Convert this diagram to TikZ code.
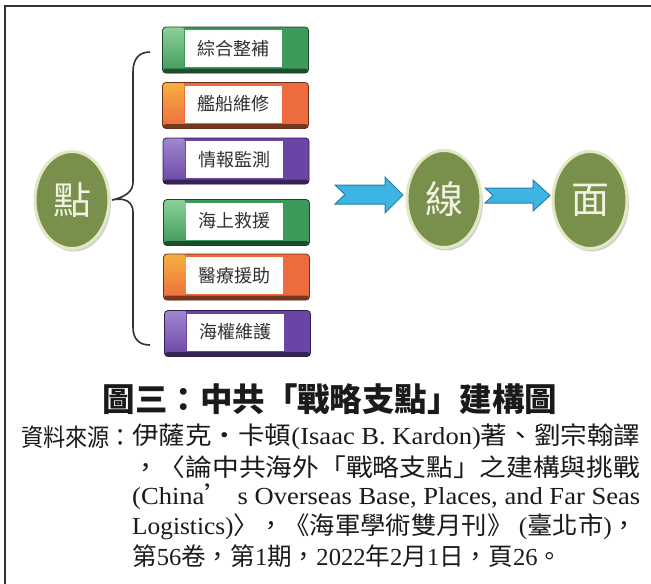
\documentclass[tikz,border=0pt]{standalone}
\usepackage{fontspec}
\usepackage{graphicx}
\setmainfont{Liberation Serif}
\newfontfamily\cjk{Noto Sans CJK TC}
\usetikzlibrary{shapes.geometric,shadows}
\newcommand\lat[1]{{\rmfamily #1}}
\definecolor{framecol}{HTML}{333333}
\definecolor{circfill}{HTML}{78904C}
\definecolor{circedge}{HTML}{E2E8C4}
\definecolor{circtext}{HTML}{F0F2E2}
\definecolor{greenc}{HTML}{3C9A5A}
\definecolor{greenl}{HTML}{8ED09A}
\definecolor{orangec}{HTML}{EE6B3E}
\definecolor{orangel}{HTML}{F5B040}
\definecolor{purplec}{HTML}{6B45A5}
\definecolor{purplel}{HTML}{A088D0}
\definecolor{boxtext}{HTML}{303030}
\definecolor{arrowfill}{HTML}{3DB5E3}
\definecolor{arrowedge}{HTML}{2A7FA6}
\definecolor{bracecol}{HTML}{333333}
\definecolor{srccol}{HTML}{1A1A1A}
\tikzset{
 bubble/.style={ellipse, minimum width=74pt, minimum height=97pt, inner sep=0pt,
   fill=circfill, draw=circedge, line width=3pt,
   drop shadow={shadow xshift=2pt, shadow yshift=-3pt, opacity=0.3, fill=black!60},
   text=circtext, font=\cjk\fontsize{38}{38}\selectfont},
 tagbox/.style 2 args={rectangle, rounded corners=3.5pt, minimum width=146pt,
   minimum height=46pt, inner sep=0pt, fill=#1, draw=#1!45!black, line width=0.8pt,
   path picture={
     \shade[top color=#2, bottom color=#1] (path picture bounding box.north west)
        rectangle ([xshift=22pt]path picture bounding box.south west);
     \fill[#1!50!black] ([yshift=4.5pt]path picture bounding box.south west)
        rectangle (path picture bounding box.south east);
   }},
 tagtext/.style={rectangle, fill=white, minimum width=97pt, minimum height=37pt,
   inner sep=0pt, text=boxtext, font=\cjk\fontsize{18}{18}\selectfont},
 blockarrow/.style={fill=arrowfill, draw=arrowedge, line width=1pt, line join=miter},
 brace/.style={draw=bracecol, line width=1.6pt},
 srcline/.style={anchor=west, inner sep=0pt, font=\cjk\fontsize{24.5}{26}\selectfont, text=srccol},
 titletext/.style={inner sep=0pt, font=\cjk\bfseries\fontsize{32.5}{34}\selectfont, text=srccol},
}
\begin{document}
\begin{tikzpicture}[x=1pt,y=-1pt]
\useasboundingbox (0,0) rectangle (651,584);
\fill[white] (0,0) rectangle (651,584);
\draw[framecol, line width=2.4pt] (5,600) -- (5,6) -- (670,6);

% boxes
\node[tagbox={greenc}{greenl}]   (b1) at (235.5,50)    {};
\node[tagbox={orangec}{orangel}] (b2) at (235.5,105.5) {};
\node[tagbox={purplec}{purplel}] (b3) at (236,161)     {};
\node[tagbox={greenc}{greenl}]   (b4) at (236.5,222.5) {};
\node[tagbox={orangec}{orangel}] (b5) at (236.5,277)   {};
\node[tagbox={purplec}{purplel}] (b6) at (237.5,333.5) {};
\node[tagtext] (t1) at ([xshift=-2pt,yshift=1.5pt]b1.center) {綜合整補};
\node[tagtext] (t2) at ([xshift=-2pt,yshift=1.5pt]b2.center) {艦船維修};
\node[tagtext] (t3) at ([xshift=-2pt,yshift=1.5pt]b3.center) {情報監測};
\node[tagtext] (t4) at ([xshift=-2pt,yshift=1.5pt]b4.center) {海上救援};
\node[tagtext] (t5) at ([xshift=-2pt,yshift=1.5pt]b5.center) {醫療援助};
\node[tagtext] (t6) at ([xshift=-2pt,yshift=1.5pt]b6.center) {海權維護};

% arrows
\draw[blockarrow] (335,185) -- (385,185) -- (385,177) -- (403,195) -- (385,213)
   -- (385,204) -- (335,204) -- (345,194.5) -- cycle;
\draw[blockarrow] (485,188) -- (533,188) -- (533,180) -- (550,195.5) -- (533,211)
   -- (533,203) -- (485,203) -- (493,195.5) -- cycle;

% circles
\node[bubble] (dian) at (72,200)  {點};
\node[bubble] (xian) at (444,199) {線};
\node[bubble] (mian) at (590,200) {面};

% brace
\coordinate (brtop) at (150,52);
\coordinate (brbot) at (150,345);
\coordinate (brtip) at ([xshift=1.5pt]dian.east);
\draw[brace] (brtop) .. controls (139,52) and (133,59) .. (133,72) -- (133,182)
   .. controls (133,192) and (125,197) .. (brtip)
   .. controls (125,197) and (133,202) .. (133,212) -- (133,327)
   .. controls (133,339) and (139,345) .. (brbot);

% title
\node[titletext] (title) at (330,399) {圖三：中共「戰略支點」建構圖};

% source
\node[srcline] (src) at (21,437) {\resizebox{111pt}{\height}{資料來源：}};
\node[srcline] (l1) at (132,437) {\resizebox{508pt}{\height}{伊薩克・卡頓\lat{(Isaac B. Kardon)}著、劉宗翰譯}};
\node[srcline] (l2) at (132,467) {\resizebox{508pt}{\height}{，〈論中共海外「戰略支點」之建構與挑戰}};
\node[srcline] (l3) at (132,497) {\resizebox{508pt}{\height}{\lat{(China}’\lat{ s Overseas Base, Places, and Far Seas}}};
\node[srcline] (l4) at (132,527) {\resizebox{505pt}{\height}{\lat{Logistics)}〉，《海軍學術雙月刊》\lat{ (}臺北市\lat{)}，}};
\node[srcline] (l5) at (132,556) {\resizebox{430pt}{\height}{第\lat{56}卷，第\lat{1}期，\lat{2022}年\lat{2}月\lat{1}日，頁\lat{26}。}};
\end{tikzpicture}
\end{document}
